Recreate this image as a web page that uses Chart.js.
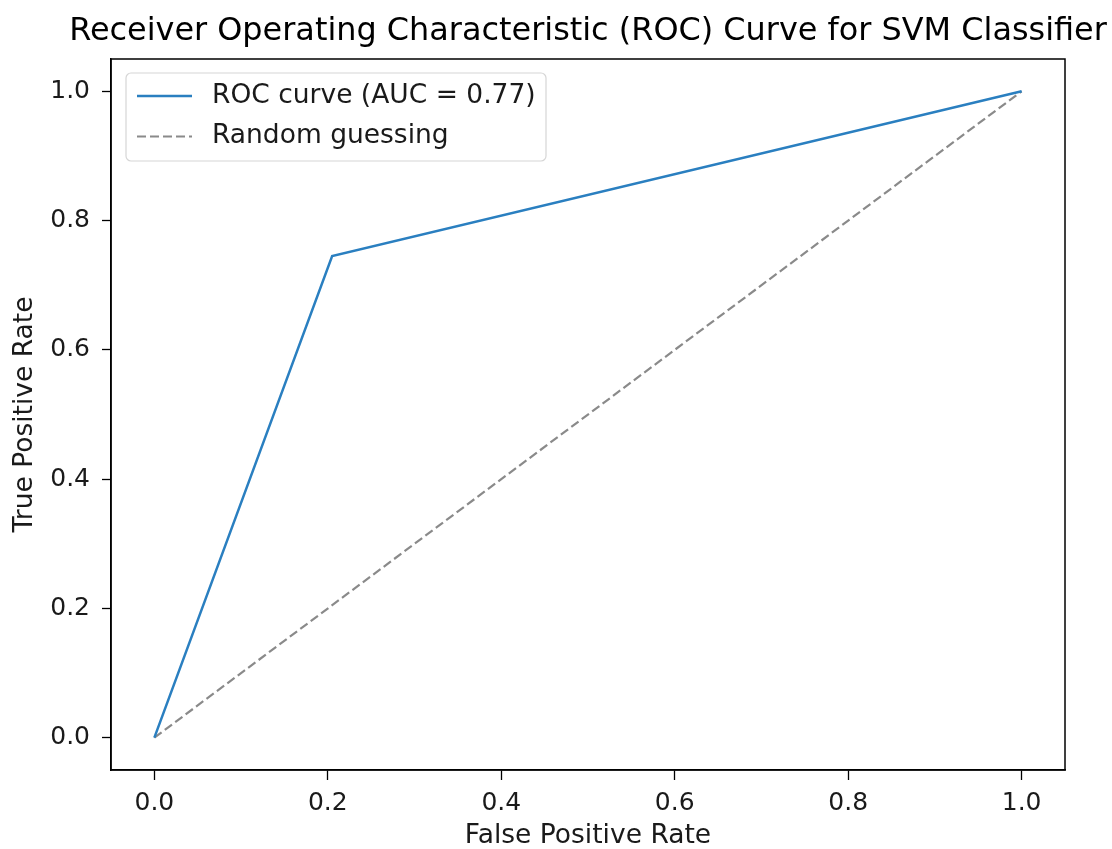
<!DOCTYPE html>
<html>
<head>
<meta charset="utf-8">
<script src="https://cdn.jsdelivr.net/npm/chart.js@4/dist/chart.umd.min.js"></script>
<style>
  html, body { margin: 0; padding: 0; background: #fff; }
  #wrap { width: 1112px; height: 849px; }
</style>
</head>
<body>
<div id="wrap"><canvas id="roc"></canvas></div>
<script>
//=========================================
// Data
//=========================================
const fpr = [0.0, 0.205, 1.0];
const tpr = [0.0, 0.745, 1.0];

const chanceX = [0.0, 1.0];
const chanceY = [0.0, 1.0];

const xTicks = [0.0, 0.2, 0.4, 0.6, 0.8, 1.0];
const yTicks = [0.0, 0.2, 0.4, 0.6, 0.8, 1.0];

const rocLabel = "ROC curve (AUC = 0.77)";
const chanceLabel = "Random guessing";

const titleText = "Receiver Operating Characteristic (ROC) Curve for SVM Classifier";
const xTitle = "False Positive Rate";
const yTitle = "True Positive Rate";

const FONT = "'DejaVu Sans', sans-serif";
const FS = 25;      // tick labels
const LFS = 26.5;   // axis titles + legend
const TFS = 31.9;   // title

function toPoints(xs, ys){
    return xs.map((x, i) => ({ x: x, y: ys[i] }));
}

//------------------------------------
// frame, title (may overhang the axes) + legend inside the axes
//------------------------------------
const framePlugin = {
    id: "frame",
    afterDraw(chart){
        const ctx = chart.ctx;
        const a = chart.chartArea;
        ctx.save();
        ctx.strokeStyle = "#000";
        ctx.lineWidth = 1.5;
        ctx.strokeRect(a.left, a.top, a.right - a.left, a.bottom - a.top);

        // title
        ctx.font = TFS + "px " + FONT;
        ctx.fillStyle = "#000";
        ctx.textAlign = "center";
        ctx.textBaseline = "alphabetic";
        ctx.fillText(titleText, (a.left + a.right) / 2, 40);

        // legend box
        const bx = a.left + 15, by = a.top + 14, bw = 420, bh = 88, r = 5;
        ctx.beginPath();
        ctx.moveTo(bx + r, by);
        ctx.arcTo(bx + bw, by, bx + bw, by + bh, r);
        ctx.arcTo(bx + bw, by + bh, bx, by + bh, r);
        ctx.arcTo(bx, by + bh, bx, by, r);
        ctx.arcTo(bx, by, bx + bw, by, r);
        ctx.closePath();
        ctx.fillStyle = "rgba(255,255,255,0.8)";
        ctx.fill();
        ctx.strokeStyle = "#d6d6d6";
        ctx.lineWidth = 1.2;
        ctx.stroke();

        ctx.font = LFS + "px " + FONT;
        ctx.textBaseline = "middle";
        ctx.textAlign = "left";
        chart.data.datasets.forEach((ds, i) => {
            const y = by + 23 + i * 40.5;
            ctx.beginPath();
            ctx.setLineDash(ds.borderDash || []);
            ctx.strokeStyle = ds.borderColor;
            ctx.lineWidth = ds.borderWidth;
            ctx.moveTo(bx + 11, y);
            ctx.lineTo(bx + 66, y);
            ctx.stroke();
            ctx.setLineDash([]);
            ctx.fillStyle = "#1a1a1a";
            ctx.fillText(ds.label, bx + 86, y);
        });
        ctx.restore();
    }
};

new Chart(document.getElementById("roc"), {
    type: "line",
    data: {
        datasets: [
            {
                label: rocLabel,
                data: toPoints(fpr, tpr),
                borderColor: "#2a7fc0",
                borderWidth: 2.5,
                pointRadius: 0,
                tension: 0,
                fill: false
            },
            {
                label: chanceLabel,
                data: toPoints(chanceX, chanceY),
                borderColor: "#8a8a8a",
                borderWidth: 2.2,
                borderDash: [9, 4],
                pointRadius: 0,
                tension: 0,
                fill: false
            }
        ]
    },
    options: {
        responsive: true,
        maintainAspectRatio: false,
        animation: false,
        events: [],
        layout: { padding: { left: 0, right: 47, top: 59, bottom: 0 } },
        plugins: {
            legend: { display: false },
            tooltip: { enabled: false },
            title: { display: false }
        },
        scales: {
            x: {
                type: "linear",
                min: -0.05,
                max: 1.05,
                afterBuildTicks: s => { s.ticks = xTicks.map(v => ({ value: v })); },
                afterFit: s => { s.height = 79; },
                ticks: {
                    color: "#1a1a1a",
                    font: { family: FONT, size: FS },
                    padding: 8,
                    maxRotation: 0,
                    callback: v => Number(v).toFixed(1)
                },
                grid: { drawOnChartArea: false, drawTicks: true, tickLength: 10, color: "#000", tickWidth: 1.3 },
                border: { display: true, color: "#000", width: 1.5 },
                title: {
                    display: true,
                    text: xTitle,
                    color: "#1a1a1a",
                    font: { family: FONT, size: LFS, lineHeight: 1 },
                    padding: { top: 0, bottom: 0 }
                }
            },
            y: {
                type: "linear",
                min: -0.05,
                max: 1.05,
                afterBuildTicks: s => { s.ticks = yTicks.map(v => ({ value: v })); },
                afterFit: s => { s.width = 111; },
                ticks: {
                    color: "#1a1a1a",
                    font: { family: FONT, size: FS },
                    padding: 12,
                    callback: v => Number(v).toFixed(1)
                },
                grid: { drawOnChartArea: false, drawTicks: true, tickLength: 9, color: "#000", tickWidth: 1.3 },
                border: { display: true, color: "#000", width: 1.5 },
                title: {
                    display: true,
                    text: yTitle,
                    color: "#1a1a1a",
                    font: { family: FONT, size: LFS, lineHeight: 1.2 },
                    padding: { top: 9, bottom: 0 }
                }
            }
        }
    },
    plugins: [framePlugin]
});
</script>
</body>
</html>
